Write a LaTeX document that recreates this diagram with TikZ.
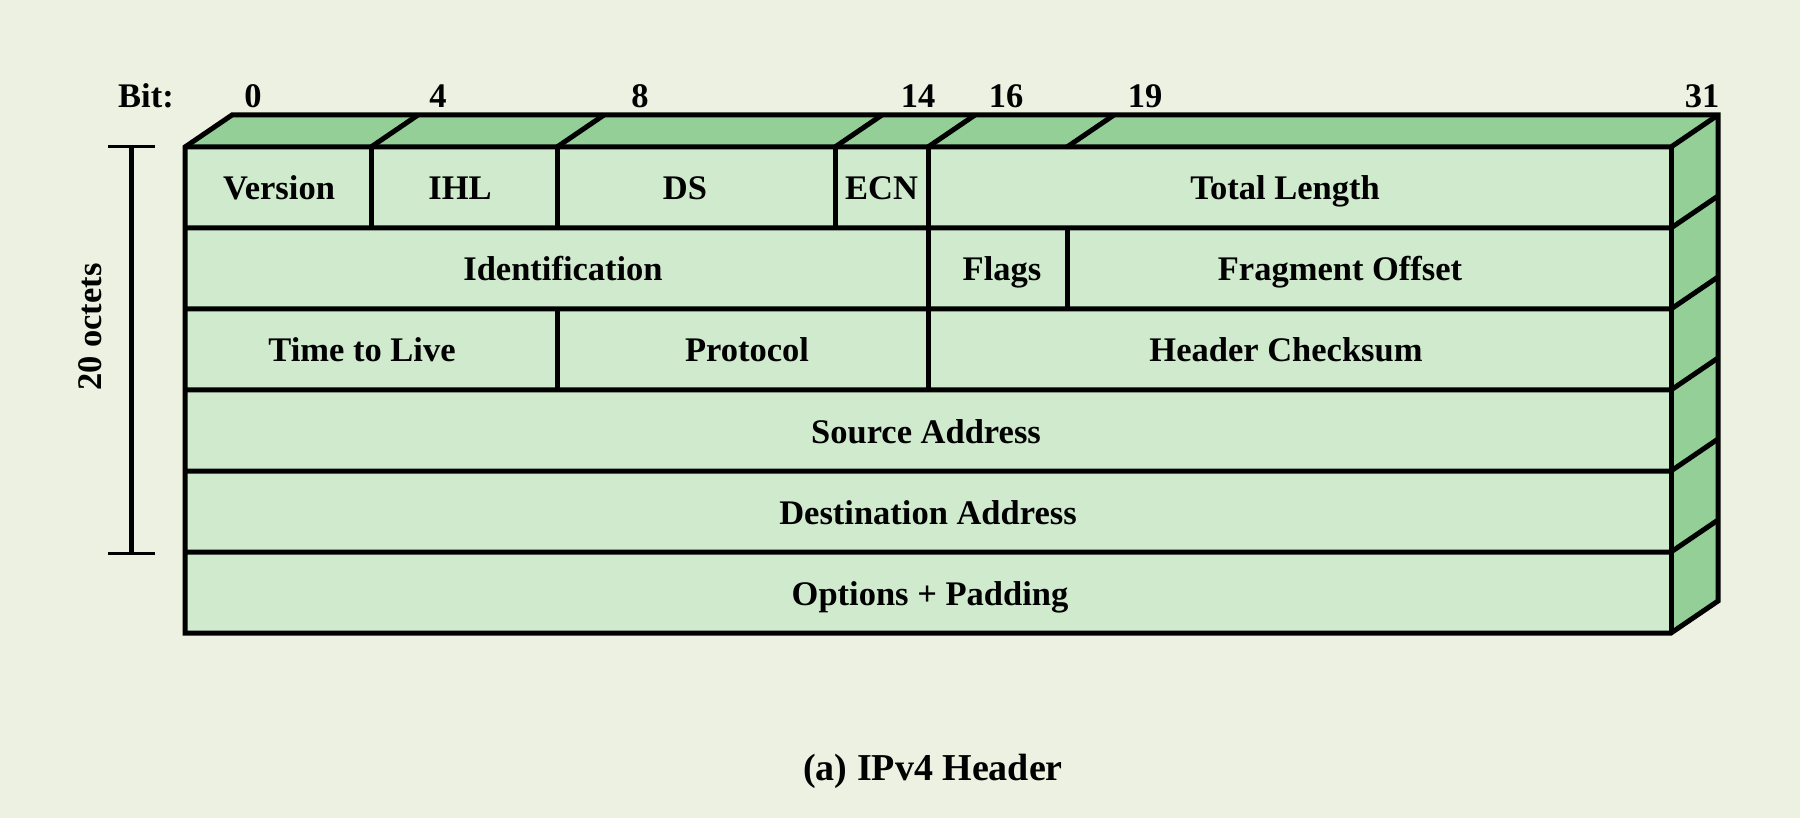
\documentclass[tikz,border=0pt]{standalone}
\usepackage{fontspec}
\setmainfont{Liberation Serif}
\definecolor{bgc}{HTML}{EDF1E1}
\definecolor{frontc}{HTML}{D0EACE}
\definecolor{topc}{HTML}{93CF96}
\begin{document}
\begin{tikzpicture}[x=1pt,y=-1pt,
  edge/.style={line width=5pt,draw=black},
  lbl/.style={font=\fontsize{34.5}{40}\selectfont\bfseries,inner sep=0pt,anchor=base},
  captionlbl/.style={font=\fontsize{38}{44}\selectfont\bfseries,inner sep=0pt,anchor=base}]
\useasboundingbox (0,0) rectangle (1800,818);
\fill[bgc] (0,0) rectangle (1800,818);
% coordinates
\def\xl{185}\def\xr{1671}\def\dx{47}\def\dy{32}
% faces
\fill[topc] (\xl,147) -- (\xl+\dx,147-\dy) -- (\xr+\dx,147-\dy) -- (\xr,147) -- cycle;
\fill[topc] (\xr,147) -- (\xr+\dx,147-\dy) -- (\xr+\dx,633-\dy) -- (\xr,633) -- cycle;
\fill[frontc] (\xl,147) rectangle (\xr,633);
% outlines
\draw[edge,line join=miter] (\xl,147) -- (\xl+\dx,147-\dy) -- (\xr+\dx,147-\dy) -- (\xr+\dx,633-\dy) -- (\xr,633) -- (\xl,633) -- cycle;
\draw[edge] (\xl,147) -- (\xr,147) -- (\xr+\dx,147-\dy);
\draw[edge] (\xr,147) -- (\xr,633);
\foreach \y in {228,309,390,471,552} {
  \draw[edge] (\xl,\y) -- (\xr,\y) -- (\xr+\dx,\y-\dy);
}
\foreach \x in {371,557,835,928,1067} {
  \draw[edge] (\x,147) -- (\x+\dx,147-\dy);
}
% vertical dividers
\foreach \x in {371,557,835,928} { \draw[edge] (\x,147) -- (\x,228); }
\foreach \x in {928,1067} { \draw[edge] (\x,228) -- (\x,309); }
\foreach \x in {557,928} { \draw[edge] (\x,309) -- (\x,390); }
% bracket
\draw[edge] (131,147) -- (131,553);
\draw[line width=3pt] (108,147) -- (155,147);
\draw[line width=3pt] (108,553) -- (155,553);
\node[font=\fontsize{34.5}{40}\selectfont\bfseries,inner sep=0pt,rotate=90] (octets) at (90,327) {20 octets};
% bit labels
\node[lbl] (bit) at (146,108) {Bit:};
\node[lbl] (b0) at (253,108) {0};
\node[lbl] (b4) at (438,108) {4};
\node[lbl] (b8) at (640,108) {8};
\node[lbl] (b14) at (918,108) {14};
\node[lbl] (b16) at (1006,108) {16};
\node[lbl] (b19) at (1145,108) {19};
\node[lbl] (b31) at (1702,108) {31};
% fields (baseline = row centre + 12)
\node[lbl] (version) at (279,200) {Version};
\node[lbl] (ihl) at (460,200) {IHL};
\node[lbl] (ds) at (685,200) {DS};
\node[lbl] (ecn) at (881.5,200) {ECN};
\node[lbl] (totlen) at (1285,200) {Total Length};
\node[lbl] (ident) at (563,281) {Identification};
\node[lbl] (flags) at (1002,281) {Flags};
\node[lbl] (fragoff) at (1340,281) {Fragment Offset};
\node[lbl] (ttl) at (362,362) {Time to Live};
\node[lbl] (proto) at (747,362) {Protocol};
\node[lbl] (hcs) at (1286,362) {Header Checksum};
\node[lbl] (src) at (926,443) {Source Address};
\node[lbl] (dst) at (928,524) {Destination Address};
\node[lbl] (opts) at (930,605) {Options + Padding};
\node[captionlbl] (caption) at (933,780) {(a) IPv4 Header};
\end{tikzpicture}
\end{document}
